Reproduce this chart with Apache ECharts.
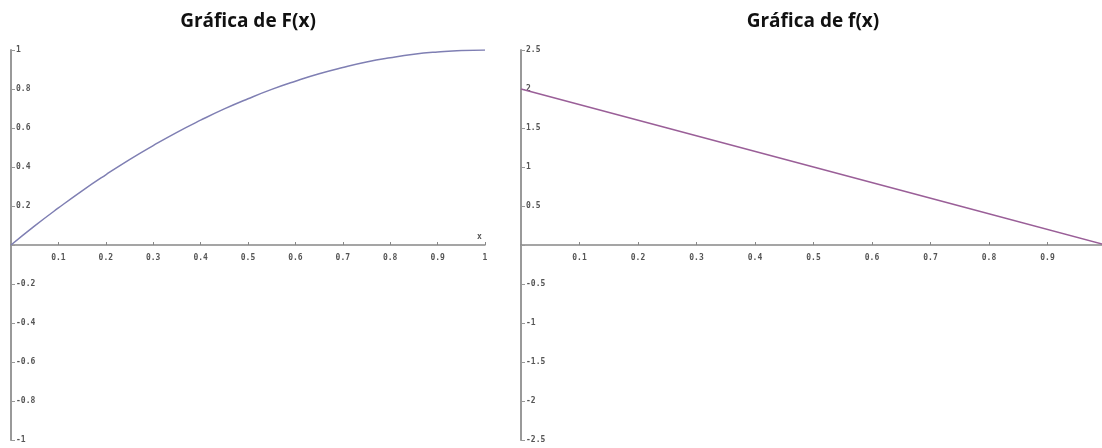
<!DOCTYPE html>
<html>
<head>
<meta charset="utf-8">
<script src="https://cdn.jsdelivr.net/npm/echarts@6/dist/echarts.min.js"></script>
<style>
html,body{margin:0;padding:0;background:#fff;}
#c{width:1102px;height:448px;}
</style>
</head>
<body>
<div id="c"></div>
<script>
// Data
const titles = ['Gráfica de F(x)', 'Gráfica de f(x)'];
const bigF_x = [0, 0.05, 0.1, 0.15, 0.2, 0.25, 0.3, 0.35, 0.4, 0.45, 0.5, 0.55, 0.6, 0.65, 0.7, 0.75, 0.8, 0.85, 0.9, 0.95, 1];
const bigF_y = [0, 0.098, 0.19, 0.278, 0.36, 0.438, 0.51, 0.578, 0.64, 0.698, 0.75, 0.798, 0.84, 0.878, 0.91, 0.938, 0.96, 0.978, 0.99, 0.998, 1];
const smallF_x = [0, 0.25, 0.5, 0.75, 1];
const smallF_y = [2, 1.5, 1, 0.5, 0];

const pairs = (xs, ys) => xs.map((x, i) => [x, ys[i]]);
const lblFont = {fontFamily: 'DejaVu Sans Mono', fontSize: 8, fontWeight: 'bold', color: '#555'};
const fmt = v => (Math.abs(v) < 1e-9 ? '' : String(+v.toFixed(2)));

const chart = echarts.init(document.getElementById('c'));
chart.setOption({
  animation: false,
  title: [
    {text: titles[0], left: 243, top: 7, textAlign: 'center',
     textStyle: {fontFamily: 'Open Sans', fontWeight: 'bold', fontSize: 19, color: '#111'}},
    {text: titles[1], left: 808, top: 7, textAlign: 'center',
     textStyle: {fontFamily: 'Open Sans', fontWeight: 'bold', fontSize: 19, color: '#111'}}
  ],
  grid: [
    {left: 11, top: 50, width: 474, height: 390, outerBoundsMode: 'none', containLabel: false},
    {left: 521, top: 50, width: 585, height: 390, outerBoundsMode: 'none', containLabel: false}
  ],
  xAxis: [0, 1].map(i => ({
    type: 'value', gridIndex: i, min: 0, max: 1, interval: 0.1,
    position: 'bottom', offset: -195,
    axisLine: {onZero: false, lineStyle: {color: '#888', width: 1.5}},
    axisTick: {inside: true, length: 3, lineStyle: {color: '#888'}},
    axisLabel: Object.assign({formatter: fmt, margin: 9, showMinLabel: false}, lblFont),
    splitLine: {show: false}
  })),
  yAxis: [
    {type: 'value', gridIndex: 0, min: -1, max: 1, interval: 0.2},
    {type: 'value', gridIndex: 1, min: -2.5, max: 2.5, interval: 0.5}
  ].map(a => Object.assign(a, {
    axisLine: {show: true, onZero: false, lineStyle: {color: '#999', width: 2}},
    axisTick: {show: true, inside: true, length: 4, lineStyle: {color: '#999'}},
    axisLabel: Object.assign({formatter: fmt, inside: true, margin: 5}, lblFont),
    splitLine: {show: false}
  })),
  graphic: [
    {type: 'text', left: 477, top: 233, style: {text: 'x', font: 'bold 8px "DejaVu Sans Mono"', fill: '#555'}}
  ],
  series: [
    {type: 'line', xAxisIndex: 0, yAxisIndex: 0, data: pairs(bigF_x, bigF_y), smooth: true,
     symbol: 'none', lineStyle: {color: '#7f7fb3', width: 1.5}},
    {type: 'line', xAxisIndex: 1, yAxisIndex: 1, data: pairs(smallF_x, smallF_y),
     symbol: 'none', lineStyle: {color: '#9a5f98', width: 1.5}}
  ]
});
</script>
</body>
</html>
